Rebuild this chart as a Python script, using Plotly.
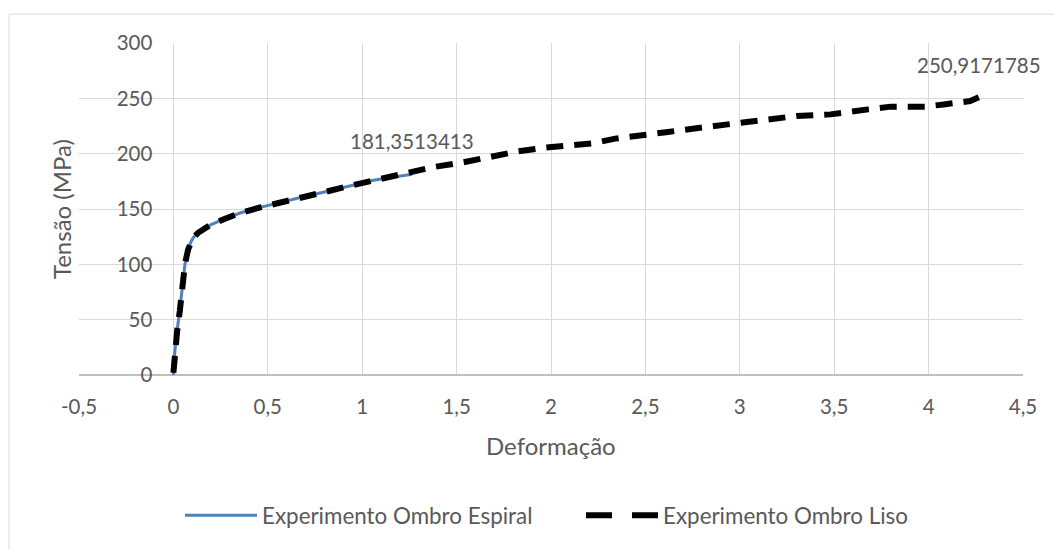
import plotly.graph_objects as go

# Series: Experimento Ombro Espiral (solid blue)
x_espiral = [0, 0.008, 0.02, 0.034, 0.048, 0.061, 0.078, 0.092, 0.105, 0.131, 0.16, 0.194,
             0.27, 0.353, 0.46, 0.582, 0.7, 0.812, 0.91, 1.0, 1.06, 1.15, 1.265]
y_espiral = [0, 22, 40, 58, 80, 100, 113.5, 120, 124, 128.5, 132, 135.4,
             141, 146.4, 151.5, 156.9, 161.5, 165.8, 170, 173.5, 176, 178.5, 181.3513413]

# Series: Experimento Ombro Liso (black dashed)
x_liso = [0, 0.008, 0.02, 0.034, 0.048, 0.061, 0.078, 0.092, 0.105, 0.131, 0.16, 0.194,
          0.27, 0.353, 0.46, 0.582, 0.7, 0.812, 0.91, 1.0, 1.088, 1.22, 1.38, 1.53, 1.68,
          1.82, 1.97, 2.09, 2.22, 2.34, 2.47, 2.62, 2.75, 2.88, 2.99, 3.10, 3.19, 3.30,
          3.48, 3.59, 3.68, 3.80, 3.90, 3.98, 4.08, 4.22, 4.266]
y_liso = [2, 22, 40, 58, 80, 100, 113.5, 120, 124, 128.5, 132, 135.4,
          141, 146.4, 151.5, 156.9, 161.5, 165.8, 170, 173.5, 177, 182, 188, 192, 197,
          202, 205.5, 207.5, 209.4, 213.6, 216, 219.6, 222.6, 225, 227.5, 229.6, 231, 234,
          235.5, 238.5, 240, 242.5, 242, 242.5, 244.5, 247.5, 250.9171785]

x_ticks = [-0.5, 0, 0.5, 1, 1.5, 2, 2.5, 3, 3.5, 4, 4.5]
x_tick_labels = ["-0,5", "0", "0,5", "1", "1,5", "2", "2,5", "3", "3,5", "4", "4,5"]
y_ticks = [0, 50, 100, 150, 200, 250, 300]

FONT = "Lato"
TXT = "#595959"

fig = go.Figure()
fig.add_trace(go.Scatter(x=x_espiral, y=y_espiral, mode="lines",
                         name="Experimento Ombro Espiral",
                         line=dict(color="#4f81bd", width=3)))
fig.add_trace(go.Scatter(x=x_liso, y=y_liso, mode="lines",
                         name="Experimento Ombro Liso", showlegend=False,
                         line=dict(color="#000000", width=6, dash="17px,11px")))
# legend entry for the dashed series (longer dash pattern as in the reference legend)
fig.add_trace(go.Scatter(x=[None], y=[None], mode="lines",
                         name="Experimento Ombro Liso",
                         line=dict(color="#000000", width=6, dash="26px,20px")))

# data labels at last points
fig.add_annotation(x=x_espiral[-1], y=y_espiral[-1], text="181,3513413", showarrow=False,
                   yshift=33, font=dict(family=FONT, size=20.5, color=TXT))
fig.add_annotation(x=x_liso[-1], y=y_liso[-1], text="250,9171785", showarrow=False,
                   yshift=32, font=dict(family=FONT, size=20.5, color=TXT))

# axis titles
fig.add_annotation(xref="paper", yref="paper", x=0.5, y=-0.213, text="Deformação",
                   showarrow=False, font=dict(family=FONT, size=24, color=TXT),
                   xanchor="center", yanchor="middle")
fig.add_annotation(xref="paper", yref="paper", x=-0.019, y=0.5, text="Tensão (MPa)",
                   showarrow=False, textangle=-90, font=dict(family=FONT, size=24, color=TXT),
                   xanchor="center", yanchor="middle")

# outer chart border
fig.add_shape(type="rect", xref="paper", yref="paper", x0=-0.0742, y0=1.0866, x1=1.2, y1=-0.8,
              line=dict(color="#d9d9d9", width=1), fillcolor="rgba(0,0,0,0)", layer="below")

fig.update_layout(
    width=1054, height=549,
    margin=dict(l=79, r=31, t=43, b=171),
    paper_bgcolor="white", plot_bgcolor="white",
    separators=",.",
    font=dict(family=FONT, color=TXT),
    showlegend=True,
    legend=dict(orientation="h", x=0.107, y=-0.424, xanchor="left", yanchor="middle",
                font=dict(family=FONT, size=22.4, color=TXT), itemwidth=72,
                entrywidth=314, bgcolor="rgba(0,0,0,0)"),
    xaxis=dict(range=[-0.5, 4.5], tickvals=x_ticks, ticktext=x_tick_labels,
               showgrid=True, gridcolor="#d9d9d9",
               gridwidth=1, zeroline=True, zerolinecolor="#d9d9d9", zerolinewidth=1,
               showline=False, ticks="", ticklabelstandoff=17,
               tickfont=dict(family=FONT, size=20.5, color=TXT)),
    yaxis=dict(range=[0, 300], tickvals=y_ticks, showgrid=True, gridcolor="#d9d9d9",
               gridwidth=1, zeroline=True, zerolinecolor="#bfbfbf", zerolinewidth=2,
               anchor="free", position=0.1, showline=False, ticks="",
               ticklabelstandoff=21, tickfont=dict(family=FONT, size=20.5, color=TXT)),
)

fig.write_html("out.html")
